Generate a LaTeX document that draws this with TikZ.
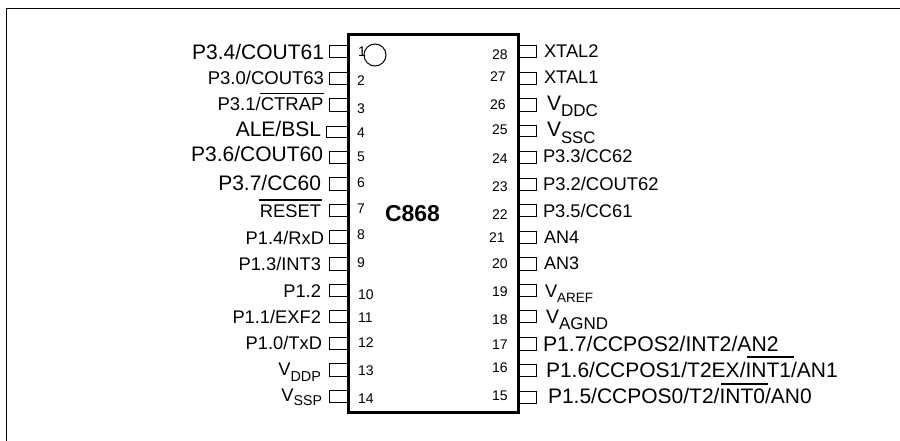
\documentclass[tikz,border=0pt]{standalone}
\usepackage{fontspec}
\setmainfont{Liberation Sans}
\newcommand{\fs}[1]{\fontsize{#1}{#1}\selectfont}
\newcommand{\Vlab}[4]{\fs{#1}V\raisebox{-#3pt}{\fs{#2}#4}}
\tikzset{
  x=1pt,y=1pt,
  chipbody/.style={draw=black,line width=2.6pt,fill=white},
  pinshape/.style={draw=black,line width=1.5pt,line cap=butt,line join=miter},
  marker/.style={draw=black,line width=1pt},
  barline/.style={draw=black,line width=1.3pt},
  frameline/.style={draw=black,line width=1pt},
  llabel/.style={anchor=base east,inner sep=0pt,outer sep=0pt},
  rlabel/.style={anchor=base west,inner sep=0pt,outer sep=0pt},
  numlabel/.style={anchor=base west,inner sep=0pt,outer sep=0pt,font=\fs{14}},
  title/.style={anchor=base west,inner sep=0pt,outer sep=0pt,font=\fs{23}\bfseries}
}
\begin{document}
\begin{tikzpicture}
\useasboundingbox (0,0) rectangle (900,-441);
\fill[white] (0,0) rectangle (900,-441);
\coordinate (fc) at (6.5,-8.5);
\coordinate (fr) at (900,-8.5);
\coordinate (fb) at (6.5,-441);
\draw[frameline] (fb) -- (fc) -- (fr);
% left pins: top, bottom, left x
\foreach \t/\b/\l in {45.4/57.6/329.7,72.4/84.6/329.7,98.7/111.6/329.7,126.7/137.6/326.7,151.7/163.6/329.7,177.7/190.6/329.7,204.7/216.6/329.7,230.7/243.6/329.7,257.7/270.6/329.7,284.7/296.6/329.7,310.7/322.6/329.7,337.7/349.6/329.7,363.7/376.6/329.7,390.7/402.6/329.7}
  \draw[pinshape] (348,-\t) -- (\l,-\t) -- (\l,-\b) -- (348,-\b);
% right pins
\foreach \t/\b in {45.4/57.6,72.4/84.6,98.7/111.6,125.7/136.6,151.7/163.6,178.7/190.6,204.7/216.6,231.7/243.6,257.7/270.6,284.7/296.6,310.7/322.6,337.7/350.6,364.7/376.6,391.7/403.6}
  \draw[pinshape] (518,-\t) -- (536.6,-\t) -- (536.6,-\b) -- (518,-\b);
\node[chipbody,draw,minimum width=170pt,minimum height=377.8pt,inner sep=0pt,outer sep=0pt,anchor=north west] (chip) at (348.3,-34.5) {};
\node[marker,circle,minimum size=22pt,inner sep=0pt,outer sep=0pt] (notch) at (375,-55) {};
\node[title] (name) at (385,-221) {C868};
% left labels
\node[llabel,font=\fs{21}] (l1) at (324,-59.3) {P3.4/COUT61};
\node[llabel,font=\fs{18.5}] (l2) at (324,-85) {P3.0/COUT63};
\node[llabel,font=\fs{18.5}] (l3) at (323.5,-111) {P3.1/CTRAP};
\node[llabel,font=\fs{21}] (l4) at (321,-137) {ALE/BSL};
\node[llabel,font=\fs{21}] (l5) at (323,-162) {P3.6/COUT60};
\node[llabel,font=\fs{21}] (l6) at (321,-190) {P3.7/CC60};
\node[llabel,font=\fs{18.3}] (l7) at (321,-217) {RESET};
\node[llabel,font=\fs{18.3}] (l8) at (324,-244) {P1.4/RxD};
\node[llabel,font=\fs{18.3}] (l9) at (321,-270) {P1.3/INT3};
\node[llabel,font=\fs{18.3}] (l10) at (321,-297) {P1.2};
\node[llabel,font=\fs{18.3}] (l11) at (321,-323) {P1.1/EXF2};
\node[llabel,font=\fs{18.3}] (l12) at (322,-349) {P1.0/TxD};
\node[llabel] (l13) at (321,-375) {\Vlab{18.3}{14.4}{6}{DDP}};
\node[llabel] (l14) at (322,-401) {\Vlab{18.3}{14.2}{4}{SSP}};
% right labels
\node[rlabel,font=\fs{18.3}] (r28) at (544,-58) {XTAL2};
\node[rlabel,font=\fs{18.3}] (r27) at (544,-84) {XTAL1};
\node[rlabel] (r26) at (547,-110.7) {\Vlab{21}{17}{6.3}{DDC}};
\node[rlabel] (r25) at (547,-137) {\Vlab{21}{16.7}{7}{SSC}};
\node[rlabel,font=\fs{18.3}] (r24) at (543,-163) {P3.3/CC62};
\node[rlabel,font=\fs{18.4}] (r23) at (543,-190) {P3.2/COUT62};
\node[rlabel,font=\fs{18.3}] (r22) at (543,-217) {P3.5/CC61};
\node[rlabel,font=\fs{18}] (r21) at (544,-243) {AN4};
\node[rlabel,font=\fs{18}] (r20) at (544,-269) {AN3};
\node[rlabel] (r19) at (545,-297) {\Vlab{18.3}{13.5}{5}{AREF}};
\node[rlabel] (r18) at (546,-323) {\Vlab{19.5}{17}{6}{AGND}};
\node[rlabel,font=\fs{21.2}] (r17) at (543,-351) {P1.7/CCPOS2/INT2/AN2};
\node[rlabel,font=\fs{21}] (r16) at (546,-377) {P1.6/CCPOS1/T2EX/INT1/AN1};
\node[rlabel,font=\fs{21}] (r15) at (548,-403) {P1.5/CCPOS0/T2/INT0/AN0};
% overlines
\draw[barline] (260,-93.3) -- (324,-93.3);
\draw[barline] (259,-200) -- (322,-200);
\draw[barline] (747,-357) -- (794,-357);
\draw[barline] (721,-384) -- (768,-384);
% pin numbers
\foreach \n/\x/\y in {1/358/57,2/357/86,3/357/114,4/357/138,5/357/161,6/357/188,7/357/213,8/357/240,9/357/267,10/358/299,11/358/322,12/358/347,13/358/375,14/358/403,28/492/60,27/490/82,26/490/110,25/492/135,24/492/164,23/492/192,22/492/219,21/489/242,20/492/268,19/492/296,18/492/324,17/492/349,16/492/372,15/492/400}
  \node[numlabel] (n\n) at (\x,-\y) {\n};
\end{tikzpicture}
\end{document}
